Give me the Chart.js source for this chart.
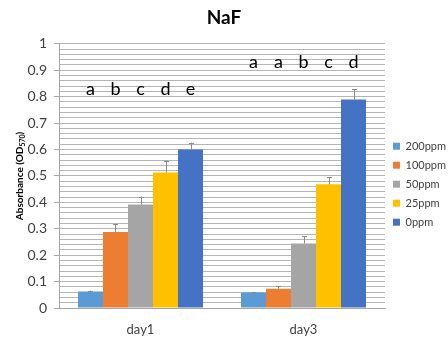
<!DOCTYPE html>
<html>
<head>
<meta charset="utf-8">
<script src="https://cdn.jsdelivr.net/npm/chart.js@4"></script>
<style>
  html, body { margin: 0; padding: 0; background: #fff; }
  #wrap { width: 448px; height: 340px; }
</style>
</head>
<body>
<div id="wrap"><canvas id="c"></canvas></div>
<script>
// Categories and series
const days = ['day1', 'day3'];
const seriesNames = ['200ppm', '100ppm', '50ppm', '25ppm', '0ppm'];

// Mean absorbance per day
const ppm200 = [0.062, 0.059];
const ppm100 = [0.288, 0.073];
const ppm50  = [0.392, 0.244];
const ppm25  = [0.513, 0.468];
const ppm0   = [0.600, 0.789];

// Standard error (drawn upward)
const err200 = [0.004, 0.002];
const err100 = [0.029, 0.009];
const err50  = [0.030, 0.028];
const err25  = [0.045, 0.027];
const err0   = [0.026, 0.039];

// Significance letters per day
const sig200 = ['a', 'a'];
const sig100 = ['b', 'a'];
const sig50  = ['c', 'b'];
const sig25  = ['d', 'c'];
const sig0   = ['e', 'd'];

// Y-axis tick labels
const yTickLabels = ['0', '0.1', '0.2', '0.3', '0.4', '0.5', '0.6', '0.7', '0.8', '0.9', '1'];

const colors = ['#5B9BD5', '#ED7D31', '#A5A5A5', '#FFC000', '#4472C4'];
const values = [ppm200, ppm100, ppm50, ppm25, ppm0];
const errors = [err200, err100, err50, err25, err0];
const letters = [sig200, sig100, sig50, sig25, sig0];
const letterLevel = [0.83, 0.93];

const FONT = 'Lato, "Open Sans", "Liberation Sans", sans-serif';

const errorBars = {
  id: 'errorBars',
  afterDatasetsDraw(chart) {
    const ctx = chart.ctx;
    const y = chart.scales.y;
    ctx.save();
    ctx.strokeStyle = '#8a8a8a';
    ctx.lineWidth = 1;
    chart.data.datasets.forEach((ds, i) => {
      const meta = chart.getDatasetMeta(i);
      meta.data.forEach((bar, j) => {
        const top = y.getPixelForValue(ds.data[j] + ds.errors[j]);
        const x = Math.round(bar.x) + 0.5;
        ctx.beginPath();
        ctx.moveTo(x, bar.y);
        ctx.lineTo(x, top);
        ctx.moveTo(x - 2.5, Math.round(top) + 0.5);
        ctx.lineTo(x + 2.5, Math.round(top) + 0.5);
        ctx.stroke();
      });
    });
    ctx.restore();
  }
};

const sigLetters = {
  id: 'sigLetters',
  afterDatasetsDraw(chart) {
    const ctx = chart.ctx;
    const y = chart.scales.y;
    ctx.save();
    ctx.fillStyle = '#000';
    ctx.font = '18px ' + FONT;
    ctx.textAlign = 'center';
    ctx.textBaseline = 'middle';
    chart.data.datasets.forEach((ds, i) => {
      const meta = chart.getDatasetMeta(i);
      meta.data.forEach((bar, j) => {
        ctx.fillText(ds.letters[j], bar.x, y.getPixelForValue(letterLevel[j]));
      });
    });
    ctx.restore();
  }
};

const yTitle = {
  id: 'yTitle',
  afterDraw(chart) {
    const ctx = chart.ctx;
    const area = chart.chartArea;
    const cy = (area.top + area.bottom) / 2;
    const main = 'bold 10px ' + FONT;
    const sub = 'bold 7px ' + FONT;
    const p1 = 'Absorbance (OD', p2 = '570', p3 = ')';
    ctx.save();
    ctx.font = main; const w1 = ctx.measureText(p1).width; const w3 = ctx.measureText(p3).width;
    ctx.font = sub; const w2 = ctx.measureText(p2).width;
    const total = w1 + w2 + w3;
    ctx.translate(20, cy);
    ctx.rotate(-Math.PI / 2);
    ctx.fillStyle = '#000';
    ctx.textBaseline = 'middle';
    ctx.textAlign = 'left';
    let x = -total / 2;
    ctx.font = main; ctx.fillText(p1, x, 0); x += w1;
    ctx.font = sub; ctx.fillText(p2, x, 3); x += w2;
    ctx.font = main; ctx.fillText(p3, x, 0);
    ctx.restore();
  }
};

new Chart(document.getElementById('c'), {
  type: 'bar',
  data: {
    labels: days,
    datasets: seriesNames.map((name, i) => ({
      label: name,
      data: values[i],
      errors: errors[i],
      letters: letters[i],
      backgroundColor: colors[i],
      borderWidth: 0,
      categoryPercentage: 0.767,
      barPercentage: 1.0
    }))
  },
  options: {
    responsive: true,
    maintainAspectRatio: false,
    animation: false,
    layout: { padding: { left: 0, right: 0, top: 0, bottom: 0 } },
    plugins: {
      title: {
        display: true,
        text: 'NaF',
        color: '#000',
        font: { family: FONT, size: 19, weight: 'bold' },
        padding: { top: 6, bottom: 15 }
      },
      legend: {
        position: 'right',
        align: 'center',
        maxWidth: 63,
        title: { display: true, text: ' ', padding: { top: 14 } },
        labels: {
          boxWidth: 7,
          boxHeight: 7,
          padding: 8,
          color: '#404040',
          font: { family: FONT, size: 11 }
        }
      },
      tooltip: { enabled: false }
    },
    scales: {
      x: {
        grid: { display: false },
        border: { display: true, color: '#a6a6a6' },
        ticks: { color: '#404040', font: { family: FONT, size: 13 }, padding: 6 },
        afterFit(s) { s.height = 32; }
      },
      y: {
        min: 0,
        max: 1,
        afterFit(s) { s.width = 59; },
        border: { display: true, color: '#a6a6a6' },
        grid: {
          color: '#b5b5b5',
          tickLength: 5,
          tickColor: (c) => (Math.round(c.tick.value * 100) % 10 === 0 ? '#a6a6a6' : 'rgba(0,0,0,0)')
        },
        ticks: {
          stepSize: 0.02,
          autoSkip: false,
          padding: 7,
          color: '#404040',
          font: { family: FONT, size: 14 },
          callback: (v) => {
            const k = Math.round(v * 100);
            return k % 10 === 0 ? yTickLabels[k / 10] : '';
          }
        }
      }
    }
  },
  plugins: [errorBars, sigLetters, yTitle]
});
</script>
</body>
</html>
